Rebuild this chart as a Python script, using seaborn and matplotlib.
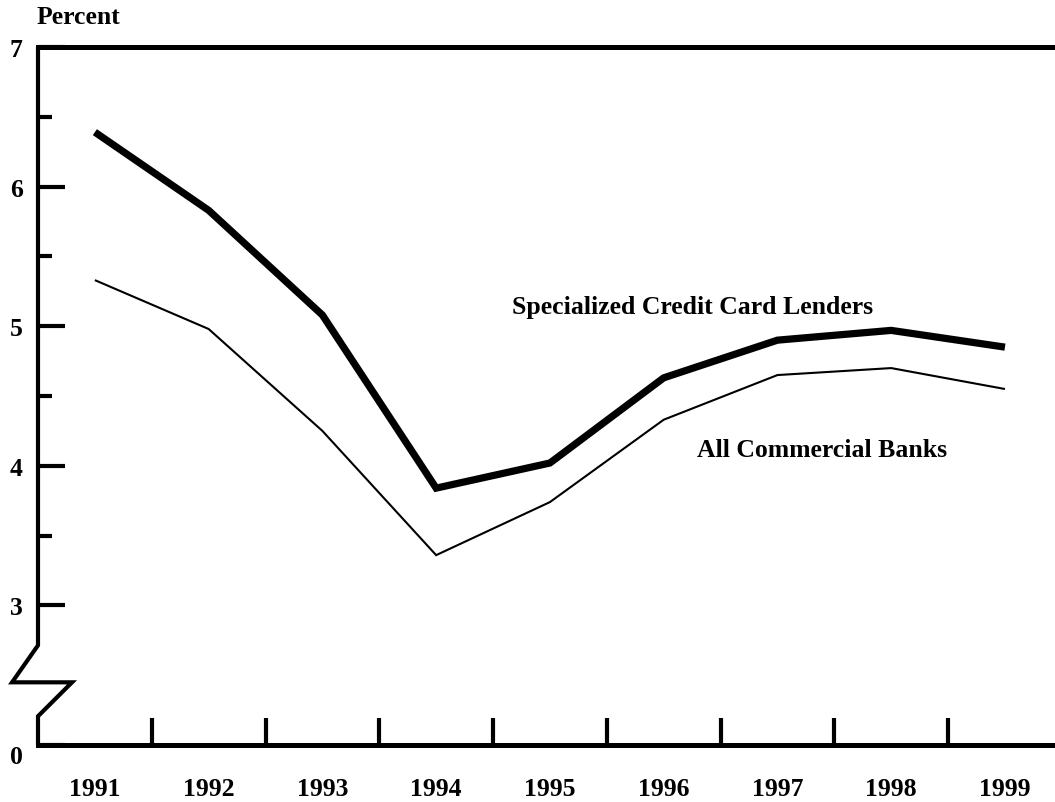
import numpy as np
import pandas as pd
import matplotlib
matplotlib.use("Agg")
import matplotlib.pyplot as plt
import seaborn as sns

years = [1991, 1992, 1993, 1994, 1995, 1996, 1997, 1998, 1999]
specialized = [6.39, 5.83, 5.08, 3.84, 4.02, 4.63, 4.90, 4.97, 4.85]
all_banks = [5.33, 4.98, 4.25, 3.36, 3.74, 4.33, 4.65, 4.70, 4.55]
ytick_vals = [2, 3, 4, 5, 6, 7]
ytick_labels = ["0", "3", "4", "5", "6", "7"]

sns.set_style("ticks")
plt.rcParams["font.family"] = ["Liberation Serif", "DejaVu Serif"]
plt.rcParams["font.weight"] = "bold"
plt.rcParams["text.color"] = "black"
plt.rcParams["xtick.color"] = "black"
plt.rcParams["ytick.color"] = "black"
plt.rcParams["xtick.labelcolor"] = "black"
plt.rcParams["ytick.labelcolor"] = "black"

FS = 18.5

df = pd.DataFrame({"year": years * 2,
                   "value": specialized + all_banks,
                   "series": ["spec"] * 9 + ["all"] * 9})

fig = plt.figure(figsize=(10.55, 8.03), dpi=100)
ax = fig.add_axes([38 / 1055, 57 / 803, 1 - 38 / 1055, (746 - 48) / 803])

sns.lineplot(data=df, x="year", y="value", hue="series", size="series",
             sizes={"spec": 5.2, "all": 1.5}, palette={"spec": "black", "all": "black"},
             legend=False, ax=ax)
for ln in ax.get_lines():
    ln.set_solid_capstyle("butt")
    ln.set_solid_joinstyle("miter")

ax.set_xlim(1990.5, 1999.44)
ax.set_ylim(2, 7)

# axes frame
ax.spines["right"].set_visible(False)
ax.spines["left"].set_visible(False)
for s in ["top", "bottom"]:
    ax.spines[s].set_linewidth(3.6)
    ax.spines[s].set_color("black")

# left axis with break
bx = [1990.5, 1990.5, 1990.272, 1990.799, 1990.5, 1990.5]
by = [7.0, 2.714, 2.449, 2.449, 2.206, 2.0]
ax.plot(bx, by, color="black", lw=3.0, clip_on=False, solid_joinstyle="miter")

# y ticks
ax.set_yticks(ytick_vals)
ax.set_yticklabels(ytick_labels)
ax.set_yticks(np.arange(3.5, 7, 1.0), minor=True)
ax.tick_params(axis="y", which="major", direction="in", length=19.5, width=3,
               pad=11, labelsize=FS)
ax.tick_params(axis="y", which="minor", direction="in", length=10, width=3)
for lbl in ax.get_yticklabels():
    lbl.set_fontweight("bold")
ax.get_yticklabels()[0].set_va("top")

# x ticks: marks between years, labels at years
ax.set_xticks(np.arange(1991.5, 1999, 1.0))
ax.set_xticklabels([])
ax.set_xticks(years, minor=True)
ax.set_xticklabels([str(y) for y in years], minor=True)
ax.tick_params(axis="x", which="major", direction="in", length=19.5, width=3)
ax.tick_params(axis="x", which="minor", length=0, pad=23, labelsize=FS)
for lbl in ax.get_xticklabels(minor=True):
    lbl.set_fontweight("bold")

ax.set_xlabel("")
ax.set_ylabel("")

ax.text(1994.665, 5.14, "Specialized Credit Card Lenders", fontsize=FS,
        fontweight="bold", va="center", ha="left")
ax.text(1996.29, 4.12, "All Commercial Banks", fontsize=FS,
        fontweight="bold", va="center", ha="left")
fig.text(37 / 1055, 1 - 17 / 803, "Percent", fontsize=FS, fontweight="bold",
         va="center", ha="left")

fig.savefig("out.png", dpi=100)
